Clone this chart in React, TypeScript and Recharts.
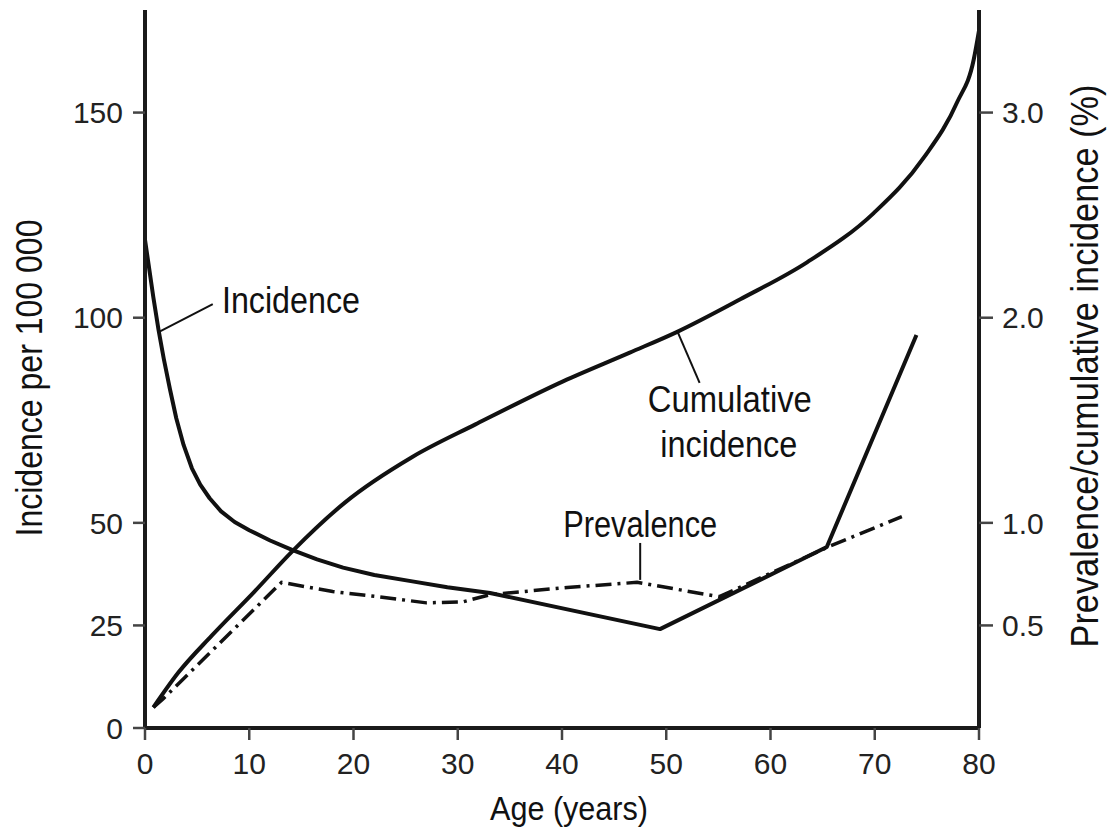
import { LineChart, Line, XAxis, YAxis, ReferenceLine, ReferenceDot } from "recharts";

const FONT = "'Liberation Sans', Arial, sans-serif";
const INK = "#111";

// axis ticks
const ageTicks = [0, 10, 20, 30, 40, 50, 60, 70, 80];
const incidenceTicks = [0, 25, 50, 100, 150];
const percentTicks = [0.5, 1, 2, 3];

// incidence per 100 000 (left axis)
const incidenceAges = [0, 0.4, 0.8, 1.3, 1.8, 2.4, 3.0, 3.7, 4.5, 5.3, 6.2, 7.3, 8.6, 10, 12, 14.1, 16.5, 19, 22, 25.5, 29, 33.1, 49.4, 65.4, 74];
const incidenceValues = [119, 112, 105, 97, 90, 82.5, 75.5, 69, 63.3, 59.3, 56, 52.8, 50.2, 48.2, 45.7, 43.4, 41.1, 39.1, 37.3, 35.8, 34.3, 32.9, 24.1, 44.1, 95.8];

// cumulative incidence, % (right axis)
const cumulativeAges = [0.8, 3.2, 6.4, 10.5, 14.1, 19.2, 25.6, 31.7, 40.1, 46.5, 51, 57.1, 63.5, 69.9, 74.7, 77.9, 79.5, 80];
const cumulativeValues = [0.1, 0.27, 0.45, 0.665, 0.86, 1.1, 1.32, 1.48, 1.69, 1.83, 1.93, 2.09, 2.27, 2.51, 2.78, 3.05, 3.26, 3.4];

// prevalence, % (right axis)
const prevalenceAges = [0.8, 1.7, 13.1, 18, 22.4, 27, 30.5, 33.1, 40.5, 47.2, 55.1, 65.4, 72.6];
const prevalenceValues = [0.1, 0.14, 0.71, 0.665, 0.64, 0.61, 0.615, 0.65, 0.685, 0.71, 0.64, 0.88, 1.03];

// annotation text anchors (age, incidence per 100 000)
const noteTexts = ["Incidence", "Cumulative", "incidence", "Prevalence"];
const noteAges = [14.0, 56.1, 56.0, 47.5];
const noteValues = [101.1, 77.0, 66.0, 46.6];

// leader lines: [age, value] start and end
const leaderStarts = [[1.3, 96.5], [51.1, 96.5], [47.5, 45.1]];
const leaderEnds = [[6.5, 103.3], [53.2, 84.1], [47.5, 36.1]];

const noteWidths = [138, 164, 137, 154];

type Row = { age: number; incidence?: number; cumulative?: number; prevalence?: number };

function buildRows(): Row[] {
  const map = new Map<number, Row>();
  const put = (ages: number[], values: number[], key: "incidence" | "cumulative" | "prevalence") => {
    ages.forEach((a, i) => {
      const row = map.get(a) ?? { age: a };
      row[key] = values[i];
      map.set(a, row);
    });
  };
  put(incidenceAges, incidenceValues, "incidence");
  put(cumulativeAges, cumulativeValues, "cumulative");
  put(prevalenceAges, prevalenceValues, "prevalence");
  return [...map.values()].sort((a, b) => a.age - b.age);
}

const rows = buildRows();

const noteLabel = (text: string, width: number) => (props: any) => {
  const vb = props.viewBox ?? {};
  const x = (vb.x ?? 0) + (vb.width ?? 0) / 2;
  const y = (vb.y ?? 0) + (vb.height ?? 0) / 2;
  return (
    <text x={x} y={y} textAnchor="middle" fontSize={36} fontFamily={FONT} fill={INK}
      textLength={width} lengthAdjust="spacingAndGlyphs">
      {text}
    </text>
  );
};

const leftTitle = (props: any) => {
  const vb = props.viewBox;
  const x = vb.x + 42;
  const y = vb.y + vb.height / 2 + 9;
  return (
    <text x={x} y={y} transform={`rotate(-90 ${x} ${y})`} textAnchor="middle" fontSize={37}
      fontFamily={FONT} fill={INK} textLength={317} lengthAdjust="spacingAndGlyphs">
      Incidence per 100 000
    </text>
  );
};

const rightTitle = (props: any) => {
  const vb = props.viewBox;
  const x = vb.x + 119;
  const y = vb.y + vb.height / 2 - 3;
  return (
    <text x={x} y={y} transform={`rotate(-90 ${x} ${y})`} textAnchor="middle" fontSize={38}
      fontFamily={FONT} fill={INK} textLength={563} lengthAdjust="spacingAndGlyphs">
      Prevalence/cumulative incidence (%)
    </text>
  );
};

const bottomTitle = (props: any) => {
  const vb = props.viewBox;
  return (
    <text x={vb.x + vb.width / 2 + 7} y={vb.y + 92} textAnchor="middle" fontSize={33}
      fontFamily={FONT} fill={INK} textLength={158} lengthAdjust="spacingAndGlyphs">
      Age (years)
    </text>
  );
};

const tickStyle = { fill: "#222", fontSize: 30, fontFamily: FONT };
const axisLineStyle = { stroke: "#1a1a1a", strokeWidth: 4 };
const tickLineStyle = { stroke: "#444", strokeWidth: 2.5 };

export default function App() {
  return (
    <div style={{ position: "absolute", left: 0, top: 0, background: "#fff" }}>
      <LineChart width={1109} height={832} data={rows} margin={{ top: 10, right: 0, bottom: 0, left: 0 }}>
        <XAxis
          type="number"
          dataKey="age"
          domain={[0, 80]}
          ticks={ageTicks}
          interval={0}
          height={104}
          tickSize={12}
          tickMargin={13}
          tick={tickStyle}
          axisLine={axisLineStyle}
          tickLine={tickLineStyle}
          label={bottomTitle}
        />
        <YAxis
          yAxisId="left"
          domain={[0, 175]}
          ticks={incidenceTicks}
          interval={0}
          width={145}
          tickSize={12}
          tickMargin={10}
          tick={tickStyle}
          axisLine={axisLineStyle}
          tickLine={tickLineStyle}
          label={leftTitle}
        />
        <YAxis
          yAxisId="right"
          orientation="right"
          domain={[0, 3.5]}
          ticks={percentTicks}
          interval={0}
          width={130}
          tickSize={14}
          tickMargin={9}
          tickFormatter={(v: number) => v.toFixed(1)}
          tick={tickStyle}
          axisLine={axisLineStyle}
          tickLine={tickLineStyle}
          label={rightTitle}
        />
        <Line
          yAxisId="left"
          type="linear"
          dataKey="incidence"
          stroke={INK}
          strokeWidth={4}
          strokeLinejoin="round"
          dot={false}
          activeDot={false}
          connectNulls
          isAnimationActive={false}
        />
        <Line
          yAxisId="right"
          type="monotone"
          dataKey="cumulative"
          stroke={INK}
          strokeWidth={4}
          dot={false}
          activeDot={false}
          connectNulls
          isAnimationActive={false}
        />
        <Line
          yAxisId="right"
          type="linear"
          dataKey="prevalence"
          stroke={INK}
          strokeWidth={3.5}
          strokeDasharray="16 6 3 6"
          dot={false}
          activeDot={false}
          connectNulls
          isAnimationActive={false}
        />
        {leaderStarts.map((s, i) => (
          <ReferenceLine
            key={`leader-${i}`}
            yAxisId="left"
            segment={[{ x: s[0], y: s[1] }, { x: leaderEnds[i][0], y: leaderEnds[i][1] }]}
            stroke={INK}
            strokeWidth={2}
          />
        ))}
        {noteTexts.map((t, i) => (
          <ReferenceDot
            key={`note-${i}`}
            yAxisId="left"
            x={noteAges[i]}
            y={noteValues[i]}
            r={0}
            fill="none"
            stroke="none"
            label={noteLabel(t, noteWidths[i])}
          />
        ))}
      </LineChart>
    </div>
  );
}
